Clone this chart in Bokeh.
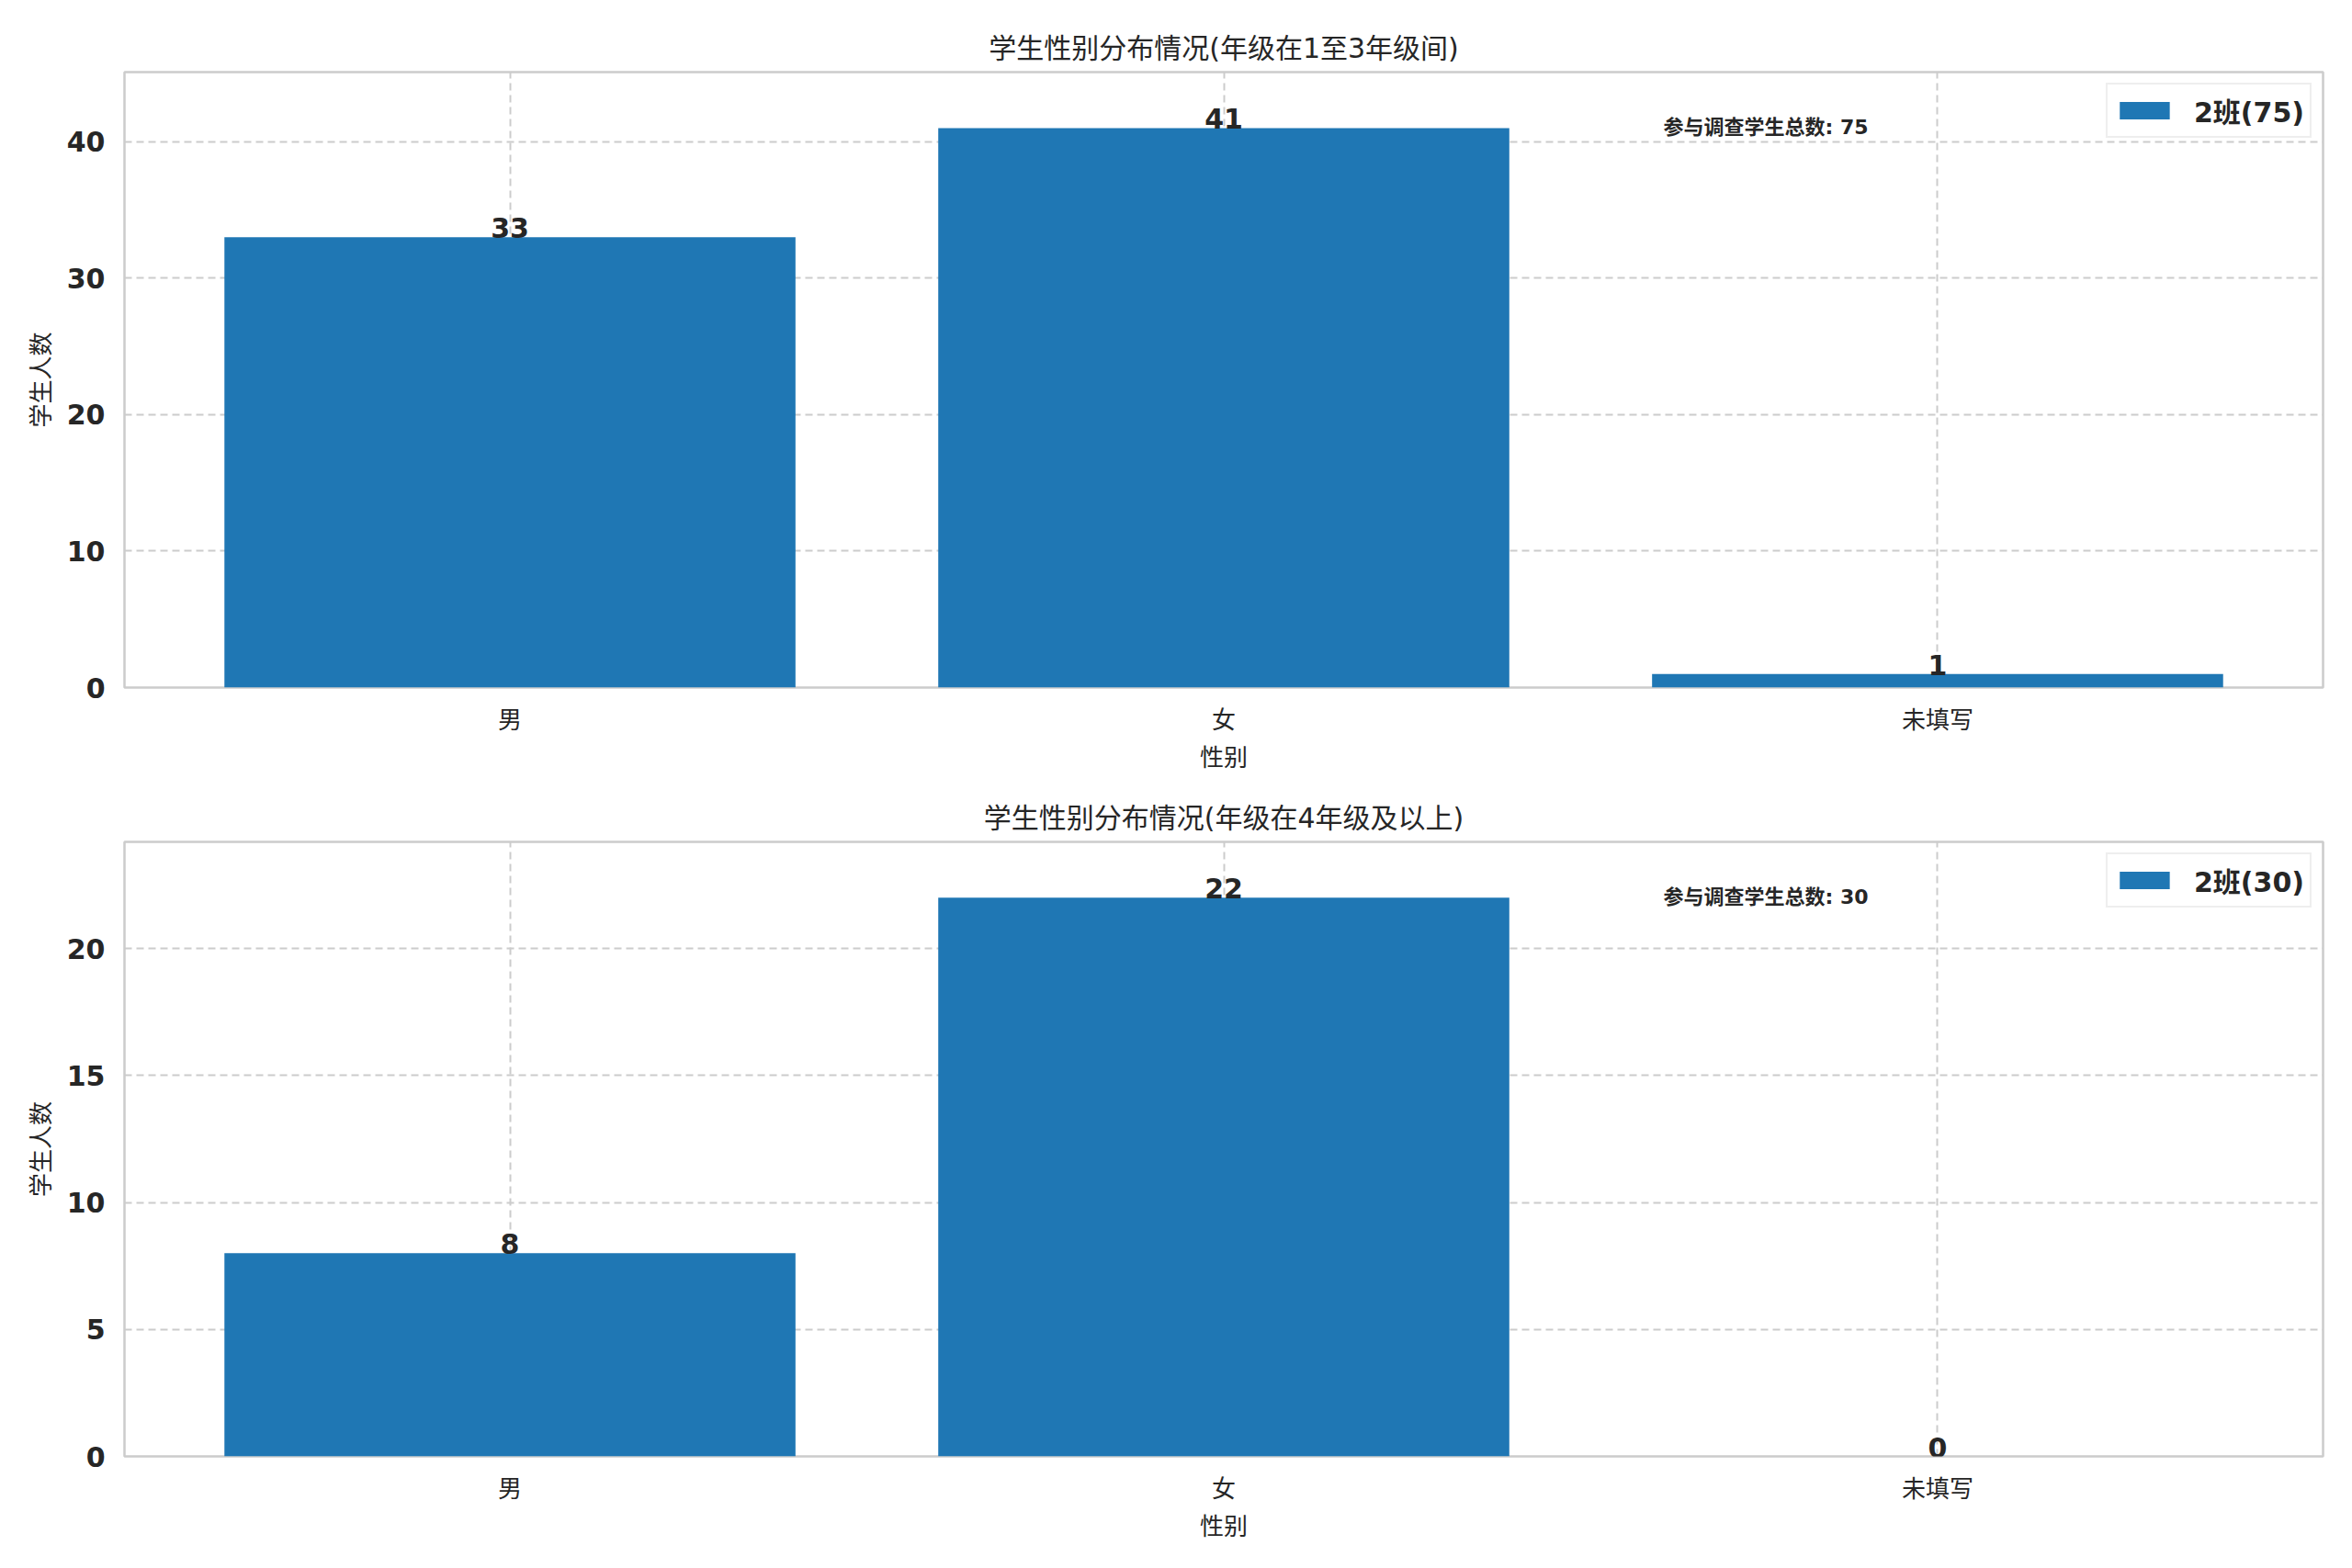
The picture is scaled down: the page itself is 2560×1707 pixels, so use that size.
from bokeh.plotting import figure
from bokeh.layouts import column
from bokeh.models import ColumnDataSource, FactorRange, Range1d, Label, FixedTicker
from bokeh.core.properties import value
from bokeh.embed import file_html
from bokeh.resources import INLINE

# ---- data ----
categories = ["男", "女", "未填写"]
counts_low = [33, 41, 1]      # 1-3 年级
counts_high = [8, 22, 0]      # 4 年级及以上
ticks_low = [0, 10, 20, 30, 40]
ticks_high = [0, 5, 10, 15, 20]
title_low = "学生性别分布情况(年级在1至3年级间)"
title_high = "学生性别分布情况(年级在4年级及以上)"
class_name = "2班"
x_label = "性别"
y_label = "学生人数"
total_prefix = "参与调查学生总数"

FONT = "'DejaVu Sans', 'Noto Sans CJK SC', sans-serif"
INK = "#262626"
BAR = "#1f77b4"
GRID = "#cccccc"


def make_panel(counts, title, ticks, height, top, bottom):
    total = sum(counts)
    src = ColumnDataSource(data=dict(cat=categories, n=counts,
                                     txt=[str(c) for c in counts]))
    xr = FactorRange(*categories, range_padding=0.08 / 3)
    yr = Range1d(0, max(counts) * 1.1)
    p = figure(x_range=xr, y_range=yr, width=2560, height=height,
               output_backend="svg", toolbar_location=None,
               min_border_left=135, min_border_right=32,
               min_border_top=top, min_border_bottom=bottom)

    p.vbar(x="cat", top="n", width=0.8, source=src, color=BAR,
           line_color=None, legend_label=f"{class_name}({total})")
    p.text(x="cat", y="n", text="txt", source=src,
           text_font=value(FONT), text_font_size="30px",
           text_font_style="bold", text_color=INK,
           text_align="center", text_baseline="alphabetic", y_offset=-10)

    # 总人数注释 (axes fraction 0.7, 0.9)
    x0 = -0.04
    p.add_layout(Label(x=x0 + 0.7 * 3.08, y=0.9 * yr.end, y_offset=7,
                       text=f"{total_prefix}: {total}",
                       text_font=FONT, text_font_size="22px",
                       text_font_style="bold", text_color=INK,
                       text_baseline="alphabetic"))

    # title
    p.title.text = title
    p.title.align = "center"
    p.title.text_font = FONT
    p.title.text_font_size = "30px"
    p.title.text_font_style = "normal"
    p.title.text_color = INK
    p.title.offset = 0
    p.title.standoff = 17

    # axes
    p.yaxis.ticker = FixedTicker(ticks=ticks)
    for ax in (p.xaxis[0], p.yaxis[0]):
        ax.axis_line_color = None
        ax.major_tick_line_color = None
        ax.minor_tick_line_color = None
        ax.major_label_text_font = FONT
        ax.major_label_text_color = INK
        ax.axis_label_text_font = FONT
        ax.axis_label_text_font_size = "26px"
        ax.axis_label_text_font_style = "normal"
        ax.axis_label_text_color = INK
    p.xaxis.major_label_text_font_size = "26px"
    p.yaxis.major_label_text_font_size = "30px"
    p.yaxis.major_label_text_font_style = "bold"
    p.yaxis.major_label_standoff = 15
    p.xaxis.major_label_standoff = 14
    p.xaxis.axis_label = x_label
    p.yaxis.axis_label = y_label
    p.xaxis.axis_label_standoff = 8
    p.yaxis.axis_label_standoff = 10

    # grid / frame
    p.xgrid.grid_line_color = GRID
    p.ygrid.grid_line_color = GRID
    p.xgrid.grid_line_dash = "8 5"
    p.ygrid.grid_line_dash = "8 5"
    p.xgrid.grid_line_width = 2
    p.ygrid.grid_line_width = 2
    p.outline_line_color = GRID
    p.outline_line_width = 2.5

    # legend
    lg = p.legend[0]
    lg.location = "top_right"
    lg.margin = 12
    lg.label_text_font = FONT
    lg.label_text_font_size = "30px"
    lg.label_text_font_style = "bold"
    lg.label_text_color = INK
    lg.glyph_width = 68
    lg.glyph_height = 24
    lg.label_standoff = 20
    lg.border_line_color = "#dddddd"
    lg.border_line_width = 2
    lg.background_fill_alpha = 0.8
    lg.padding = 6
    lg.spacing = 0
    return p


p1 = make_panel(counts_low, title_low, ticks_low, 848, 78, 100)
p2 = make_panel(counts_high, title_high, ticks_high, 859, 68, 122)

page = column(p1, p2)
open("out.html", "w").write(file_html(page, INLINE))
